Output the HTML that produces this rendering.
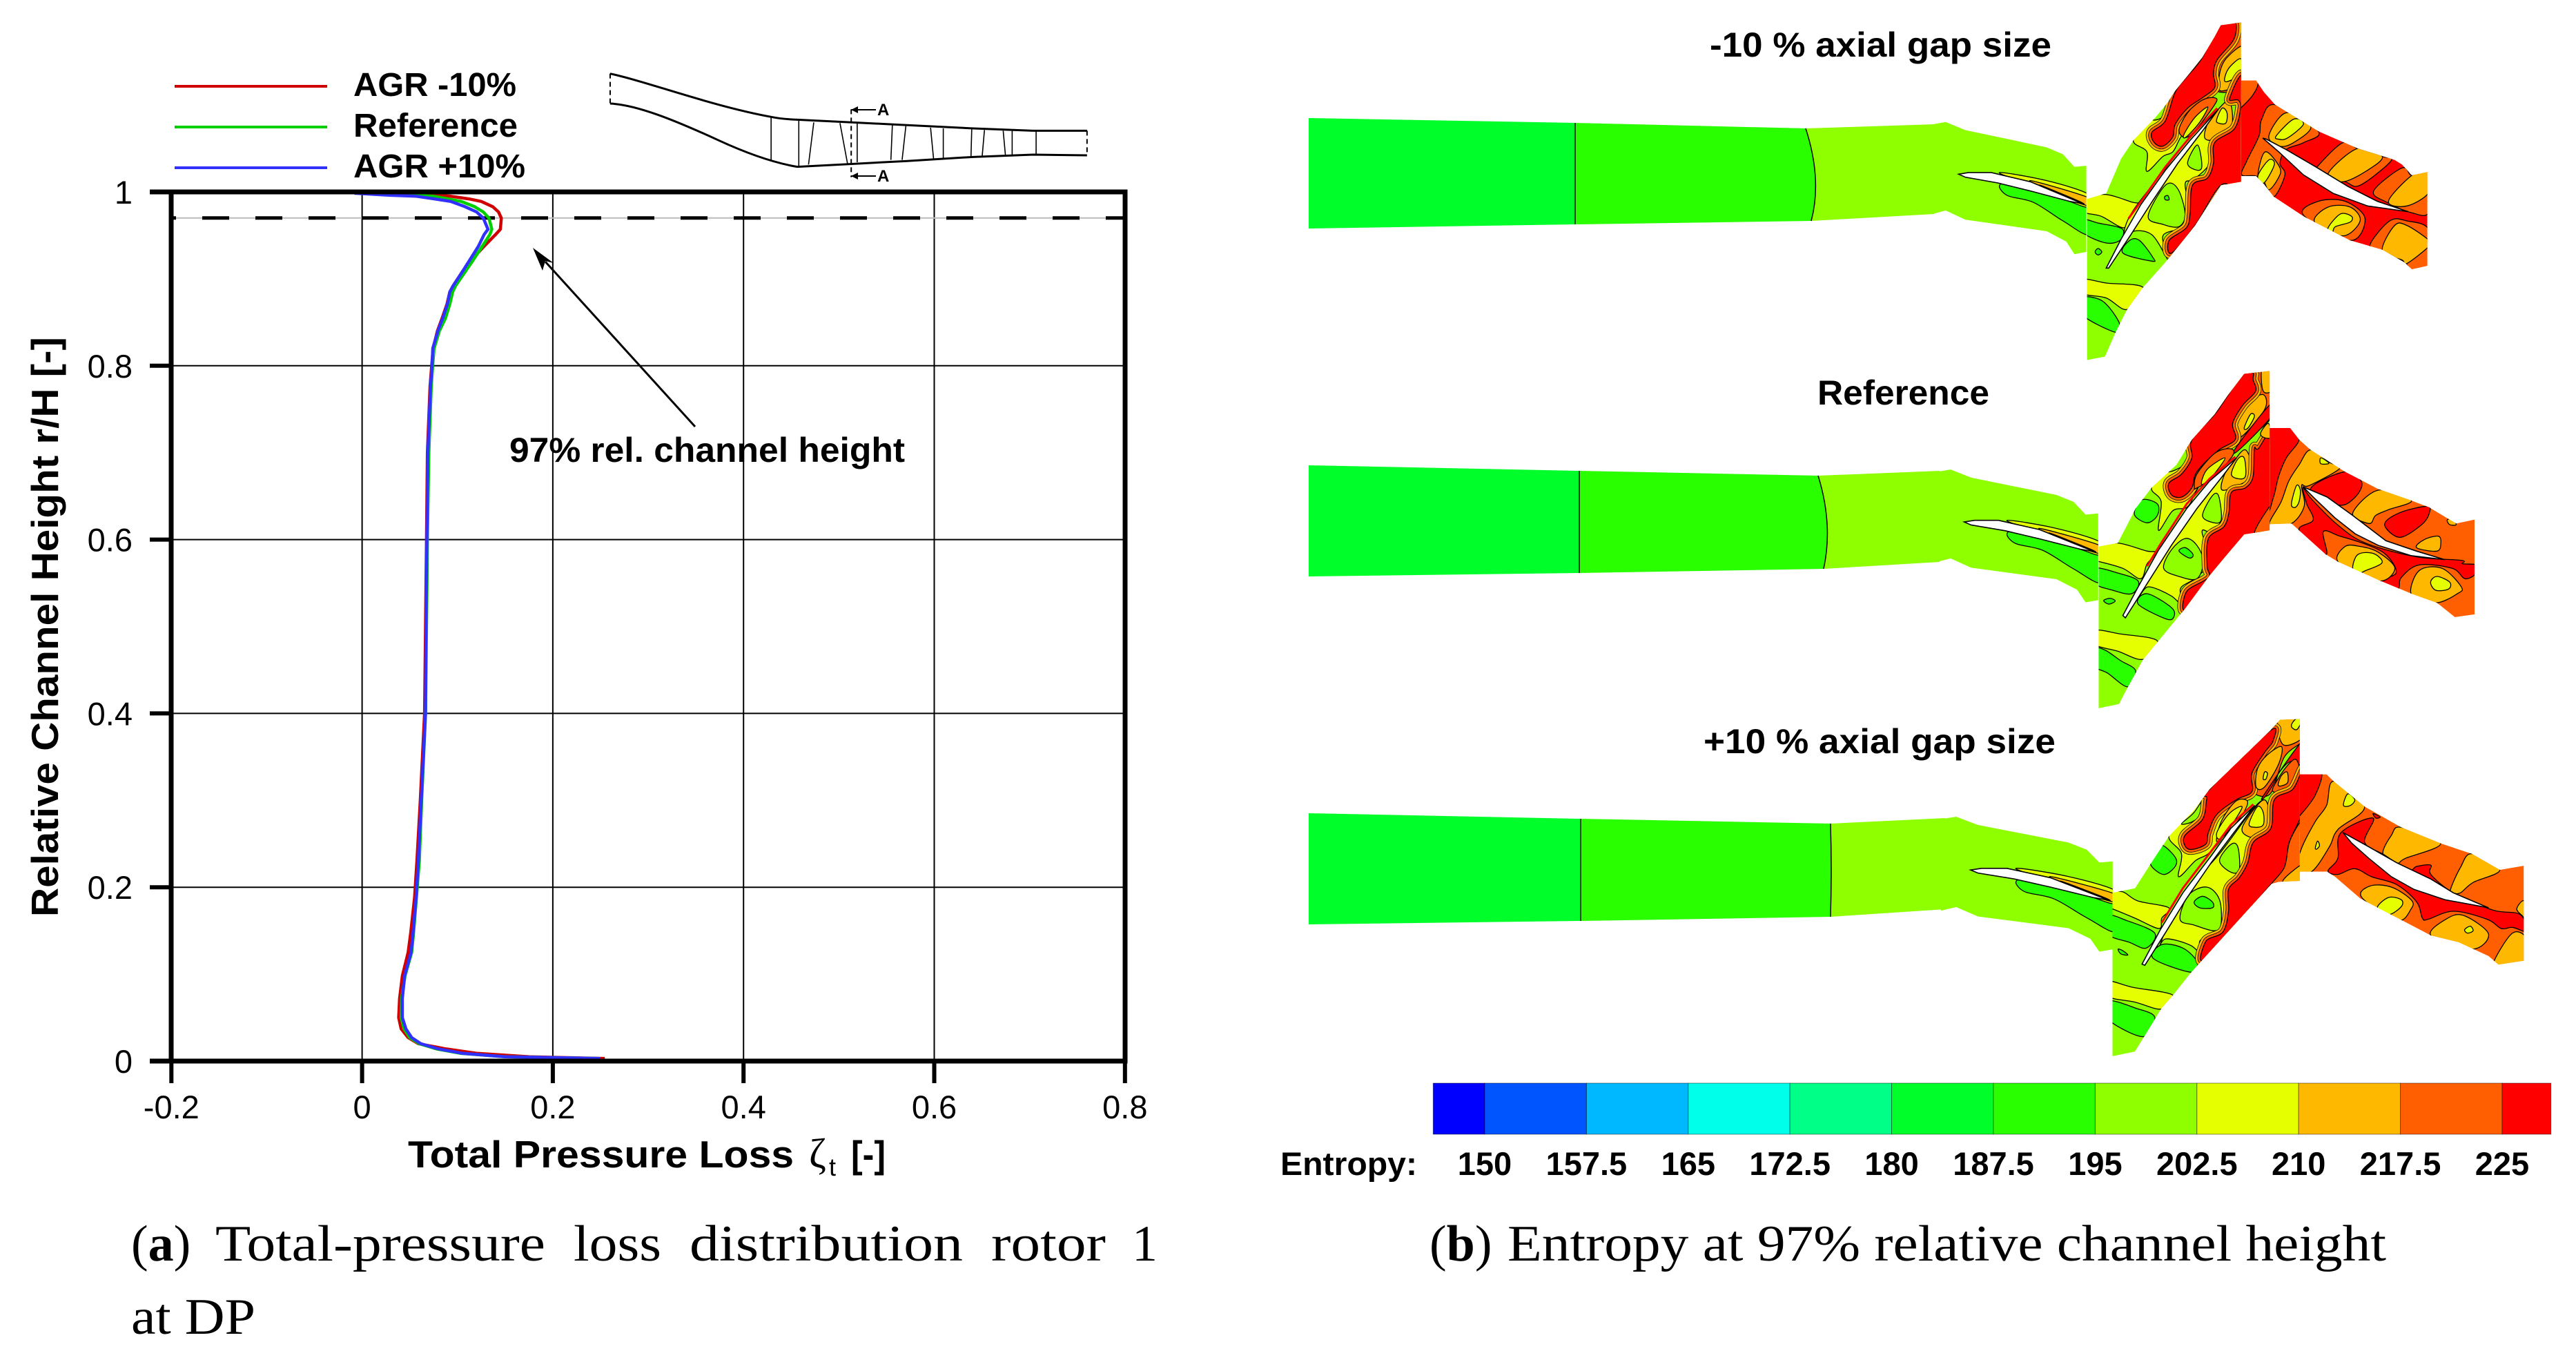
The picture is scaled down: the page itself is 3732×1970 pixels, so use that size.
<!DOCTYPE html>
<html lang="en"><head><meta charset="utf-8"><title>Total-pressure loss and entropy</title>
<style>html,body{margin:0;padding:0;background:#fff}svg{display:block}
.h{font-family:"Liberation Sans",sans-serif}.s{font-family:"Liberation Serif",serif}</style></head>
<body>
<svg id="fig" xmlns="http://www.w3.org/2000/svg" width="3732" height="1970" viewBox="0 0 3732 1970">
<rect width="3732" height="1970" fill="#fff"/>
<g id="chart"></g>
<g class="h" font-weight="bold" font-size="48">
<line x1="253" x2="474" y1="125" y2="125" stroke="#d00000" stroke-width="4"/>
<line x1="253" x2="474" y1="184" y2="184" stroke="#00d000" stroke-width="4"/>
<line x1="253" x2="474" y1="243" y2="243" stroke="#3030ff" stroke-width="4"/>
<text x="512" y="139" textLength="236" lengthAdjust="spacingAndGlyphs">AGR -10%</text>
<text x="512" y="198" textLength="238" lengthAdjust="spacingAndGlyphs">Reference</text>
<text x="512" y="257" textLength="249" lengthAdjust="spacingAndGlyphs">AGR +10%</text>
</g>
<g>
<g transform="matrix(1.0846,0,0,.3333,0,60)" fill="none" stroke="#000">
<path vector-effect="non-scaling-stroke" stroke-width="3" d="M815 140C870 180 950 280 1030 328Q1045 338 1065 340L1140 352 1200 362 1300 378 1380 388H1452"/>
<path vector-effect="non-scaling-stroke" stroke-width="3" d="M815 270C850 275 900 340 960 430Q1020 520 1065 545L1140 532 1210 520 1300 502 1380 492 1452 495"/>
<path vector-effect="non-scaling-stroke" stroke-width="2" stroke-dasharray="7 5" d="M815 140V270M1452 388V495M1137 295V590"/>
<path vector-effect="non-scaling-stroke" stroke-width="1.6" d="M1030 330V520M1067 345V540M1087 352L1080 535M1122 355L1132 530M1145 355V525M1192 362L1190 515M1210 368L1205 515M1243 375L1247 510M1260 378V507M1298 382L1297 500M1315 385L1312 497M1340 388L1343 495M1352 388V493M1384 390V490"/>
<path vector-effect="non-scaling-stroke" stroke-width="2" d="M1137 297H1170M1137 585H1170"/>
</g>
<path d="M1233 159l10-5v10zM1233 255l10-5v10z" fill="#000"/>
<text class="h" font-weight="bold" font-size="24" x="1271" y="167">A</text>
<text class="h" font-weight="bold" font-size="24" x="1271" y="263">A</text>
</g>
<g>
<line x1="1007" y1="618" x2="790" y2="379" stroke="#000" stroke-width="3"/>
<path d="M772 359L786 392 790 378 802 381Z" fill="#000"/>
<text class="h" font-weight="bold" font-size="50" x="738" y="669" textLength="573" lengthAdjust="spacingAndGlyphs">97% rel. channel height</text>
</g>
<g class="h" font-weight="bold">
<text font-size="55" x="591" y="1691" textLength="559" lengthAdjust="spacingAndGlyphs">Total Pressure Loss</text>
<text class="s" font-weight="normal" font-size="60" x="1172" y="1691">ζ</text>
<text font-weight="normal" font-size="36" x="1201" y="1703">t</text>
<text font-size="55" x="1233" y="1691" textLength="50" lengthAdjust="spacingAndGlyphs">[-]</text>
<text font-size="55" transform="translate(84,1328) rotate(-90)" textLength="840" lengthAdjust="spacingAndGlyphs">Relative Channel Height r/H [-]</text>
</g>
<g class="s" font-size="74">
<text x="190" y="1826">(<tspan font-weight="bold">a</tspan>)</text>
<text x="312" y="1826" textLength="478" lengthAdjust="spacingAndGlyphs">Total-pressure</text>
<text x="831" y="1826" textLength="127" lengthAdjust="spacingAndGlyphs">loss</text>
<text x="999" y="1826" textLength="396" lengthAdjust="spacingAndGlyphs">distribution</text>
<text x="1436" y="1826" textLength="166" lengthAdjust="spacingAndGlyphs">rotor</text>
<text x="1640" y="1826">1</text>
<text x="190" y="1932" textLength="180" lengthAdjust="spacingAndGlyphs">at DP</text>
</g>
<g class="s" font-size="74">
<text x="2071" y="1826">(<tspan font-weight="bold">b</tspan>)</text>
<text x="2184" y="1826" textLength="1273" lengthAdjust="spacingAndGlyphs">Entropy at 97% relative channel height</text>
</g>
<g id="fields"></g>
<g class="h" font-weight="bold" font-size="50">
<text x="2477" y="82" textLength="495" lengthAdjust="spacingAndGlyphs">-10 % axial gap size</text>
<text x="2633" y="586" textLength="249" lengthAdjust="spacingAndGlyphs">Reference</text>
<text x="2468" y="1091" textLength="510" lengthAdjust="spacingAndGlyphs">+10 % axial gap size</text>
</g>
<g id="cbar"></g>
<text class="h" font-weight="bold" font-size="47" x="1855" y="1702" textLength="198" lengthAdjust="spacingAndGlyphs">Entropy:</text>
</svg>
<script>
// ---- chart data ----
const relHeight=[0.003,0.005,0.009,0.014,0.020,0.027,0.037,0.050,0.072,0.098,0.125,0.148,0.188,0.23,0.3,0.4,0.5,0.6,0.7,0.776,0.80,0.82,0.84,0.855,0.871,0.885,0.892,0.908,0.92,0.9375,0.951,0.957,0.97,0.977,0.983,0.989,0.992,0.995,0.9963,0.9985];
const lossAgrMinus10=[0.2545,0.175,0.12,0.088,0.059,0.0483,0.041,0.0384,0.0393,0.0422,0.0483,0.051,0.055,0.0575,0.061,0.0655,0.0665,0.0675,0.0685,0.0712,0.073,0.0745,0.079,0.084,0.089,0.092,0.0955,0.105,0.113,0.128,0.14,0.145,0.146,0.143,0.137,0.125,0.112,0.093,0.077,0.05];
const lossReference=[0.25,0.15,0.103,0.078,0.06,0.05,0.044,0.041,0.0415,0.045,0.052,0.054,0.057,0.06,0.0625,0.0665,0.0675,0.0685,0.07,0.0725,0.074,0.0755,0.081,0.0875,0.092,0.095,0.098,0.108,0.1155,0.126,0.134,0.136,0.133,0.127,0.118,0.104,0.09,0.075,0.05,0.02];
const lossAgrPlus10=[0.25,0.15,0.105,0.08,0.0615,0.052,0.046,0.0422,0.0422,0.0446,0.0514,0.0535,0.0567,0.059,0.062,0.0665,0.067,0.068,0.069,0.0717,0.0734,0.0741,0.0795,0.0847,0.0895,0.092,0.0955,0.105,0.112,0.122,0.128,0.132,0.127,0.12,0.108,0.093,0.076,0.057,0.028,-0.008];
const xTickValues=[-0.2,0,0.2,0.4,0.6,0.8];
const xTickLabels=["-0.2","0","0.2","0.4","0.6","0.8"];
const yTickValues=[0,0.2,0.4,0.6,0.8,1];
const yTickLabels=["0","0.2","0.4","0.6","0.8","1"];
const markerHeight=[0.97];
const entropyEdges=[146.2,150,157.5,165,172.5,180,187.5,195,202.5,210,217.5,225,228.6];
const entropyColors=["#0000ff","#0055ff","#00b8ff","#00ffea","#00ff87","#00ff2a","#2aff00","#8fff00","#e6ff00","#ffb800","#ff5f00","#ff0000"];
const entropyTicks=[150,157.5,165,172.5,180,187.5,195,202.5,210,217.5,225];
const entropyTickLabels=["150","157.5","165","172.5","180","187.5","195","202.5","210","217.5","225"];

const NS="http://www.w3.org/2000/svg";
function mk(tag,attrs,parent){const e=document.createElementNS(NS,tag);for(const k in attrs)e.setAttribute(k,attrs[k]);parent.appendChild(e);return e;}
const xScale=v=>524.6+v*1381.5;
const yScale=v=>1537-v*1259;
const chart=document.getElementById('chart');
const FONT='"Liberation Sans",sans-serif';
xTickValues.forEach((v,i)=>{
  if(v>-0.2&&v<0.8){
    const g=mk('line',{x1:xScale(v),x2:xScale(v),y1:yScale(1),y2:yScale(0),stroke:'#000','stroke-width':2},chart);
    
    
  }
  const t=mk('line',{x1:xScale(v),x2:xScale(v),y1:yScale(0),y2:1569,stroke:'#000','stroke-width':6},chart);
  
  
  const l=mk('text',{x:xScale(v),y:1620,'text-anchor':'middle','font-size':47,'font-family':FONT},chart);
  l.textContent=xTickLabels[i];
  
  
});
yTickValues.forEach((v,i)=>{
  if(v>0&&v<1){
    const g=mk('line',{x1:248,x2:1630,y1:yScale(v),y2:yScale(v),stroke:'#000','stroke-width':2},chart);
    
    
  }
  const t=mk('line',{x1:217,x2:248,y1:yScale(v),y2:yScale(v),stroke:'#000','stroke-width':6},chart);
  
  
  const l=mk('text',{x:192,y:yScale(v)+17,'text-anchor':'end','font-size':47,'font-family':FONT},chart);
  l.textContent=yTickLabels[i];
  
  
});
const refGrey=mk('line',{x1:248,x2:1630,y1:yScale(markerHeight[0]),y2:yScale(markerHeight[0]),stroke:'#bbb','stroke-width':2},chart);


const refDash=mk('line',{x1:248,x2:1630,y1:yScale(markerHeight[0]),y2:yScale(markerHeight[0]),stroke:'#000','stroke-width':5,'stroke-dasharray':'39 38','stroke-dashoffset':'32'},chart);


function seriesPath(vals){return vals.map((v,i)=>(i?'L':'M')+xScale(v).toFixed(1)+' '+yScale(relHeight[i]).toFixed(1)).join('');}
const s1=mk('path',{d:seriesPath(lossAgrMinus10),fill:'none',stroke:'#d00000','stroke-width':4.5,'stroke-linejoin':'round'},chart);


const s2=mk('path',{d:seriesPath(lossReference),fill:'none',stroke:'#00d000','stroke-width':4.5,'stroke-linejoin':'round'},chart);


const s3=mk('path',{d:seriesPath(lossAgrPlus10),fill:'none',stroke:'#3030ff','stroke-width':4.5,'stroke-linejoin':'round'},chart);


const frame=mk('path',{d:'M217 278H1630V1537H217M248 278V1537',fill:'none',stroke:'#000','stroke-width':7},chart);



// ---- colorbar ----
const colorX=v=>2151+(v-150)*147.4/7.5;
const cbar=document.getElementById('cbar');
entropyColors.forEach((c,i)=>{
  const r=mk('rect',{x:colorX(entropyEdges[i]),y:1569,width:colorX(entropyEdges[i+1])-colorX(entropyEdges[i]),height:74,fill:c,stroke:'#000','stroke-opacity':0.45,'stroke-width':1},cbar);
  
  
});
entropyTicks.forEach((v,i)=>{
  const t=mk('text',{x:colorX(v),y:1702,'text-anchor':'middle','font-size':47,'font-weight':'bold','font-family':FONT},cbar);
  t.textContent=entropyTickLabels[i];
  
  
});

// ---- contour fields (illustrative geometry) ----
const C={r:'#ff0000',o:'#ff5f00',a:'#ffb800',y:'#e6ff00',l:'#8fff00',g:'#2aff00',f:'#00ff2a'};
function smooth(p){let n=p.length,d='M'+p[0][0]+' '+p[0][1];for(let i=0;i<n;i++){const a=p[(i-1+n)%n],b=p[i],c=p[(i+1)%n],e=p[(i+2)%n];
  d+='C'+(b[0]+(c[0]-a[0])/6).toFixed(1)+' '+(b[1]+(c[1]-a[1])/6).toFixed(1)+' '+(c[0]-(e[0]-b[0])/6).toFixed(1)+' '+(c[1]-(e[1]-b[1])/6).toFixed(1)+' '+c[0]+' '+c[1];}return d+'Z';}
function poly(p){return 'M'+p.map(q=>q.join(' ')).join('L')+'Z';}
const fields=document.getElementById('fields');
let clipId=0;
function section(name,matrix,outline,base,bands,blades){
  const g=mk('g',{transform:'matrix('+matrix.join(',')+')'},fields);
  
  
  const id='clip'+(clipId++);
  const cp=mk('clipPath',{id:id},g);
  mk('path',{d:poly(outline)},cp);
  const inner=mk('g',{'clip-path':'url(#'+id+')'},g);
  const b=mk('path',{d:poly(outline),fill:C[base]},inner);
  
  
  bands.forEach(bd=>{
    const d=smooth(bd[1]);
    (bd[2]||[]).forEach((h,i,arr)=>{
      const w=(arr.length-i)*7;
      const k=mk('path',{d:d,fill:'none',stroke:'#000','stroke-width':w+1.5,'vector-effect':'non-scaling-stroke','stroke-linejoin':'round'},inner);
      
      
      const hp=mk('path',{d:d,fill:C[h],stroke:C[h],'stroke-width':w,'vector-effect':'non-scaling-stroke','stroke-linejoin':'round'},inner);
      
      
    });
    const p=mk('path',{d:d,fill:C[bd[0]],stroke:'#000','stroke-width':1.3,'vector-effect':'non-scaling-stroke'},inner);
    
    
  });
  (blades||[]).forEach(bl=>{
    const w=mk('path',{d:poly(bl),fill:'#fff',stroke:'#000','stroke-width':1.6,'vector-effect':'non-scaling-stroke'},g);
    
    
  });
}
function inlet(name,top,bot,d1,d2a,d2m,d2b,endTop,endBot){
  const g=mk('g',{},fields);
  
  
  const a=mk('path',{d:'M1896 '+top+'L'+d1[0]+' '+d1[1]+'V'+d1[2]+'L1896 '+bot+'Z',fill:C.f},g);
  
  
  const b=mk('path',{d:'M'+d1[0]+' '+d1[1]+'L'+d2a[0]+' '+d2a[1]+'Q'+d2m[0]+' '+d2m[1]+' '+d2b[0]+' '+d2b[1]+'L'+d1[0]+' '+d1[2]+'Z',fill:C.g},g);
  
  
  const c=mk('path',{d:'M'+d2a[0]+' '+d2a[1]+'L'+endTop[0]+' '+endTop[1]+'L'+endTop[0]+' '+endBot[1]+'L'+d2b[0]+' '+d2b[1]+'Q'+d2m[0]+' '+d2m[1]+' '+d2a[0]+' '+d2a[1]+'Z',fill:C.l},g);
  
  
  const ln=mk('path',{d:'M'+d1[0]+' '+d1[1]+'V'+d1[2]+'M'+d2a[0]+' '+d2a[1]+'Q'+d2m[0]+' '+d2m[1]+' '+d2b[0]+' '+d2b[1],fill:'none',stroke:'#000','stroke-width':1.5},g);
  
  
}
function redEdge(name,m,d){
  const g=mk('path',{transform:'matrix('+m.join(',')+')',d:d,fill:'none',stroke:'#f00','stroke-width':3,'vector-effect':'non-scaling-stroke'},fields);
  
  
}
const statorOutline=[[0,480],[40,470],[100,505],[350,580],[400,610],[435,665],[472,660],[472,1035],[435,1045],[410,990],[350,945],[100,895],[40,855],[0,870],[-2,870]];
const statorBands=[
 ['g',[[205,748],[240,745],[420,815],[480,850],[480,960],[400,900],[310,820],[230,790]]],
 ['y',[[205,690],[350,725],[480,785],[480,840],[420,815],[300,745]]],
 ['a',[[300,725],[480,800],[480,835],[380,785]]],
 ['r',[[330,745],[450,815],[455,825],[370,780]]]];
const statorBlades=[[[80,697],[110,690],[180,690],[300,730],[460,825],[420,815],[300,770],[200,735],[100,710]]];

// Panel 1 (-10 %)
const M1=[.3571,0,0,.3333,2980,20];
inlet('inlet-minus-10',171,331,[2282,178,325],[2616,186],[2640,260],[2624,320],[2802,180],[0,310]);
section('stator-1-minus-10',[.4719,0,0,.3333,2800,20],statorOutline,'l',statorBands,statorBlades);
section('rotor-minus-10',M1,[[747,38],[665,50],[640,100],[590,190],[530,270],[480,335],[450,385],[400,450],[310,550],[260,630],[200,780],[122,805],[122,1505],[195,1490],[240,1380],[285,1285],[345,1195],[440,1080],[560,920],[665,745],[747,730]],'l',[
 ['y',[[105,810],[195,785],[310,820],[345,825],[300,880],[270,930],[180,880],[105,860]]],
 ['g',[[105,895],[170,910],[265,935],[255,985],[195,995],[105,950]]],
 ['y',[[105,1155],[200,1170],[350,1190],[285,1285],[200,1235],[105,1215]]],
 ['g',[[105,1235],[170,1240],[215,1280],[255,1350],[240,1385],[105,1310]]],
 ['y',[[470,340],[380,450],[310,550],[365,600],[365,685],[430,620],[470,600],[500,540],[560,430]]],
 ['l',[[385,455],[440,380],[470,340],[450,420],[420,455]]],
 ['y',[[650,420],[700,380],[705,490],[640,545],[620,650],[555,720],[520,740],[540,870],[510,930],[430,965],[455,1075],[385,960],[300,950],[265,1030],[290,890],[420,700],[540,540]]],
 ['l',[[530,650],[570,570],[588,660],[570,680]]],
 ['l',[[370,880],[440,745],[490,760],[520,870],[495,925],[430,915]]],
 ['g',[[437,795],[450,790],[455,808],[440,808]]],
 ['g',[[268,1040],[295,985],[335,985],[390,1060],[385,1075]]],
 ['g',[[155,1035],[167,1020],[182,1035],[167,1048]]],
 ['o',[[720,20],[765,20],[765,290],[660,340],[635,270],[640,220],[710,130]]],
 ['a',[[765,140],[765,280],[665,335],[660,260],[690,190]]],
 ['y',[[683,295],[695,240],[745,195],[745,260]]],
 ['r',[[665,30],[722,30],[718,110],[650,200],[635,260],[640,320],[590,365],[530,410],[480,480],[470,535],[430,575],[395,560],[385,515],[440,465],[480,340],[530,270],[590,190]],['a','o']],
 ['o',[[495,510],[530,430],[590,375],[640,365],[640,395],[540,530]]],
 ['y',[[515,525],[560,450],[612,405],[580,470],[525,535]]],
 ['a',[[610,480],[650,420],[700,380],[708,490],[640,545],[600,540]]],
 ['y',[[648,460],[670,410],[690,430],[685,475],[655,475]]],
 ['r',[[760,280],[700,370],[735,375],[745,410],[720,500],[640,560],[635,650],[610,715],[550,745],[540,870],[525,930],[455,985],[465,1040],[560,920],[665,745],[760,730]],['a','o']]
],[[[200,1105],[260,980],[340,830],[440,680],[540,550],[655,415],[590,510],[490,650],[390,810],[300,960],[210,1105]]]);
redEdge('rotor-blade-edge-minus-10',M1,'M290 890L345 810 440 665 540 535 650 410');
section('stator-2-minus-10',M1,[[747,290],[808,290],[840,340],[885,395],[1060,510],[1220,585],[1370,635],[1400,655],[1440,702],[1503,688],[1503,1095],[1440,1110],[1410,1080],[1320,1025],[1190,985],[1000,880],[880,795],[840,740],[808,705],[747,705]],'r',[
 ['o',[[740,280],[808,280],[815,310],[790,360],[745,410],[740,410]]],
 ['o',[[885,395],[1060,510],[1000,560],[930,590],[905,650],[925,700],[880,795],[840,740],[808,705],[750,700],[770,640],[820,530],[830,460]]],
 ['a',[[860,530],[930,430],[1030,490],[960,560],[900,575]]],
 ['y',[[890,530],[960,458],[1000,480],[935,540],[900,545]]],
 ['a',[[840,730],[815,705],[845,600],[905,670],[895,720],[860,765]]],
 ['y',[[815,705],[860,635],[882,655],[840,735]]],
 ['o',[[1060,660],[1160,560],[1220,585],[1320,620],[1355,640],[1230,745],[1170,730],[1060,680]]],
 ['a',[[1100,695],[1220,585],[1320,620],[1260,680],[1160,730]]],
 ['o',[[1285,770],[1400,670],[1440,702],[1510,680],[1510,860],[1440,865],[1340,820]]],
 ['a',[[1345,815],[1440,702],[1510,680],[1510,775],[1420,835]]],
 ['o',[[1000,875],[1060,815],[1170,815],[1250,890],[1190,985]]],
 ['a',[[1045,905],[1100,840],[1190,840],[1230,900],[1160,965]]],
 ['y',[[1100,930],[1150,870],[1195,880],[1190,905],[1130,925],[1118,948]]],
 ['o',[[1270,1005],[1350,900],[1420,900],[1510,940],[1510,1110],[1440,1115],[1410,1080],[1320,1030]]],
 ['a',[[1320,1030],[1370,920],[1420,920],[1510,985],[1510,1010],[1420,1085],[1400,1070]]]
],[[[835,540],[900,600],[1000,700],[1120,780],[1260,835],[1425,860],[1300,815],[1180,750],[1050,665],[930,590],[850,545]]]);

// Panel 2 (reference)
const M2=[.37,0,0,.3333,3020,530];
inlet('inlet-reference',674,835,[2288,682,830],[2634,689],[2656,760],[2642,824],[2810,682],[0,814]);
section('stator-1-reference',[.495,0,0,.3351,2806.2,522.5],statorOutline,'l',statorBands,statorBlades);
section('rotor-reference',M2,[[725,22],[625,35],[560,130],[510,210],[420,322],[360,430],[262,530],[200,620],[130,770],[55,785],[55,1488],[135,1470],[170,1395],[230,1275],[290,1195],[390,1060],[490,910],[550,830],[625,732],[725,715]],'l',[
 ['y',[[40,785],[130,770],[245,805],[285,810],[245,860],[220,925],[150,880],[55,850],[40,850]]],
 ['g',[[40,880],[130,900],[210,935],[185,990],[110,975],[40,945]]],
 ['y',[[40,1150],[140,1165],[285,1195],[230,1275],[130,1240],[40,1210]]],
 ['g',[[40,1230],[80,1235],[140,1280],[200,1325],[170,1395],[90,1335],[40,1305]]],
 ['y',[[410,340],[320,450],[262,530],[300,590],[290,715],[345,630],[400,615],[430,560],[470,450]]],
 ['g',[[225,582],[285,600],[285,650],[245,682],[195,645]]],
 ['l',[[320,458],[360,420],[415,330],[395,420],[350,455]]],
 ['y',[[600,400],[640,380],[640,470],[575,540],[555,640],[500,720],[460,720],[490,850],[430,925],[375,970],[395,1055],[340,1000],[250,960],[215,1000],[300,800],[420,620],[530,470]]],
 ['l',[[462,650],[500,565],[525,565],[535,670],[500,680]]],
 ['l',[[310,880],[340,800],[395,750],[440,780],[465,850],[440,925],[370,915]]],
 ['g',[[370,805],[395,790],[425,820],[410,835]]],
 ['g',[[210,1035],[245,990],[340,1050],[350,1090],[320,1100]]],
 ['g',[[75,1020],[100,1010],[120,1022],[95,1035]]],
 ['o',[[660,10],[740,10],[740,210],[600,340],[590,320],[578,250],[620,170],[670,110]]],
 ['a',[[695,10],[740,10],[740,100],[700,110]]],
 ['a',[[610,310],[600,240],[640,160],[700,125],[705,190]]],
 ['y',[[625,270],[650,210],[665,220],[640,270]]],
 ['r',[[625,30],[660,30],[660,60],[670,110],[620,170],[580,250],[590,320],[520,370],[440,460],[420,530],[380,570],[340,560],[330,510],[380,470],[420,400],[420,322],[510,210],[560,130]],['a','o']],
 ['r',[[590,360],[725,170],[735,215],[610,360]]],
 ['o',[[430,530],[440,470],[510,380],[570,360],[580,390],[500,490],[440,530]]],
 ['y',[[458,515],[480,450],[550,400],[500,480]]],
 ['a',[[545,480],[575,430],[630,365],[660,470],[620,510],[540,540]]],
 ['y',[[575,470],[600,405],[625,400],[630,480],[600,490]]],
 ['r',[[740,290],[680,360],[665,360],[660,480],[630,530],[575,550],[565,640],[545,700],[485,750],[480,870],[485,920],[400,980],[400,1060],[560,850],[670,725],[740,600]],['a','o']],
 ['o',[[665,730],[725,610],[740,610],[740,730]]],
 ['a',[[690,290],[720,250],[730,310],[700,310]]]
],[[[150,1085],[210,960],[290,800],[400,620],[490,500],[595,400],[540,480],[440,620],[340,780],[260,920],[160,1095]]]);
redEdge('rotor-blade-edge-reference',M2,'M245 870L300 770 400 600 490 490 590 395');
section('stator-2-reference',M2,[[725,270],[805,270],[840,320],[885,365],[1020,460],[1150,535],[1280,585],[1350,615],[1425,665],[1455,685],[1527,668],[1527,1080],[1450,1092],[1380,1030],[1280,990],[1150,930],[990,850],[945,820],[840,715],[810,685],[725,688]],'o',[
 ['r',[[715,260],[820,260],[840,322],[790,400],[760,480],[740,570],[715,620]]],
 ['a',[[885,365],[960,420],[1000,445],[880,520],[850,520],[860,610],[810,685],[725,690],[770,590],[800,500],[840,430]]],
 ['y',[[925,400],[950,415],[955,425],[925,425]]],
 ['y',[[810,600],[830,520],[845,540],[840,590],[825,615]]],
 ['r',[[885,535],[1020,460],[1085,505],[1060,570],[995,605]]],
 ['a',[[1050,640],[1150,540],[1280,585],[1190,625],[1140,650],[1115,685]]],
 ['r',[[1175,690],[1230,640],[1340,610],[1350,640],[1320,690],[1235,745]]],
 ['a',[[1300,790],[1330,755],[1385,740],[1395,770],[1380,805]]],
 ['a',[[1420,670],[1440,665],[1455,690],[1430,690]]],
 ['r',[[855,530],[890,580],[990,690],[1100,770],[1300,830],[1475,845],[1480,860],[1535,865],[1535,900],[1490,925],[1440,880],[1310,865],[1240,920],[1225,970],[1150,935],[1220,900],[1180,820],[1100,775],[1000,740],[935,720],[945,820],[840,715],[895,670],[870,600]]],
 ['a',[[995,855],[1020,785],[1080,785],[1150,810],[1215,880],[1150,935]]],
 ['y',[[1050,880],[1070,820],[1130,815],[1165,855],[1100,890],[1075,900]]],
 ['a',[[1280,995],[1310,890],[1400,880],[1475,960],[1460,990],[1375,1030]]],
 ['y',[[1355,940],[1380,915],[1430,940],[1425,970],[1375,975]]]
],[[[855,525],[900,575],[980,660],[1060,730],[1150,780],[1280,825],[1410,842],[1300,805],[1180,760],[1050,650],[950,570]]]);

// Panel 3 (+10 %)
const M3=[.4082,0,0,.3333,3040,1030];
inlet('inlet-plus-10',1178,1339,[2290,1186,1334],[2652,1193],[2654,1260],[2652,1328],[2818,1185],[0,1317]);
section('stator-1-plus-10',[.5252,0,0,.3403,2813,1023],statorOutline,'l',statorBands,statorBlades);
section('rotor-plus-10',M3,[[715,35],[645,38],[610,85],[395,340],[340,430],[250,545],[185,665],[130,770],[50,790],[50,1500],[130,1480],[165,1410],[225,1290],[265,1235],[330,1135],[370,1080],[615,750],[640,742],[715,738]],'l',[
 ['y',[[35,795],[85,785],[140,825],[250,855],[225,900],[215,945],[130,900],[50,860],[35,860]]],
 ['g',[[35,890],[100,910],[200,965],[170,1030],[110,1005],[35,970]]],
 ['y',[[35,1175],[120,1200],[265,1235],[225,1295],[130,1265],[35,1240]]],
 ['g',[[35,1260],[130,1290],[200,1330],[160,1415],[35,1340]]],
 ['y',[[390,345],[300,450],[250,545],[295,620],[285,720],[345,650],[390,620],[440,550],[470,450]]],
 ['g',[[230,585],[275,640],[270,680],[230,710],[185,665],[205,610]]],
 ['l',[[295,490],[340,440],[390,350],[370,440],[335,480]]],
 ['y',[[560,410],[600,400],[605,500],[545,570],[525,660],[500,720],[450,770],[455,860],[430,960],[360,1000],[380,1080],[330,1020],[240,990],[215,1030],[290,820],[430,620]]],
 ['l',[[430,650],[470,580],[495,590],[500,690],[470,700]]],
 ['l',[[290,905],[320,800],[385,765],[430,820],[435,930],[410,955],[340,930]]],
 ['g',[[340,830],[370,805],[405,830],[405,855],[360,855]]],
 ['g',[[195,1075],[225,1015],[300,1030],[350,1090],[330,1135]]],
 ['g',[[70,1035],[85,1040],[105,1060],[80,1055]]],
 ['o',[[615,70],[640,20],[730,20],[730,120],[660,200],[610,360],[545,350],[545,280],[590,180],[620,130]]],
 ['a',[[640,20],[730,20],[730,110],[655,145]]],
 ['y',[[685,65],[700,35],[725,30],[705,80]]],
 ['r',[[395,340],[610,85],[620,130],[590,180],[545,270],[545,350],[490,385],[420,450],[390,530],[380,580],[320,600],[305,545],[370,470],[385,380]],['a','o']],
 ['a',[[560,330],[565,250],[600,190],[650,155],[640,230],[590,330]]],
 ['y',[[585,295],[590,265],[600,270],[595,295]]],
 ['r',[[590,360],[725,130],[725,230],[680,220],[640,270],[620,320],[590,375]]],
 ['o',[[620,350],[640,290],[680,225],[705,215],[720,300],[690,340]]],
 ['a',[[638,320],[650,280],[670,265],[672,310],[650,325]]],
 ['a',[[420,550],[440,470],[490,390],[530,395],[500,470],[430,560]]],
 ['y',[[420,530],[465,445],[510,420],[440,550]]],
 ['a',[[510,510],[580,390],[605,420],[610,500],[555,550]]],
 ['y',[[535,490],[565,415],[585,440],[585,495],[555,505]]],
 ['r',[[730,250],[690,340],[625,385],[612,510],[550,570],[530,660],[500,725],[462,775],[462,870],[442,960],[382,1000],[382,1075],[615,750],[665,690],[675,580],[715,470],[730,400]],['a','o']],
 ['o',[[610,770],[660,680],[678,570],[715,485],[730,485],[730,750]]],
 ['a',[[655,745],[690,695],[730,670],[730,750]]]
],[[[155,1100],[220,950],[300,790],[400,630],[470,510],[555,410],[480,530],[400,660],[310,820],[240,960],[165,1105]]]);
redEdge('rotor-blade-edge-plus-10',M3,'M225 920L300 770 400 610 470 495 550 405');
section('stator-2-plus-10',M3,[[715,275],[810,275],[835,305],[945,415],[1075,505],[1215,575],[1325,620],[1425,690],[1510,672],[1510,1085],[1420,1102],[1385,1065],[1280,1005],[1180,975],[930,815],[840,720],[812,698],[715,698]],'o',[
 ['r',[[700,260],[790,260],[770,365],[715,455],[700,470]]],
 ['a',[[835,305],[945,415],[850,515],[820,590],[760,695],[700,710],[720,600],[770,480],[810,410]]],
 ['y',[[870,410],[885,360],[910,385],[895,410]]],
 ['y',[[770,595],[778,565],[785,585],[775,600]]],
 ['a',[[1010,620],[1040,540],[1075,505],[1215,575],[1090,640],[1060,660]]],
 ['a',[[1250,775],[1285,680],[1325,620],[1425,690],[1330,745],[1285,790],[1260,790]]],
 ['r',[[860,530],[975,465],[945,570],[1015,625],[1100,690],[1130,675],[1180,670],[1180,710],[1260,790],[1400,865],[1490,880],[1520,930],[1520,960],[1470,940],[1430,945],[1380,905],[1260,870],[1170,905],[1150,900],[1130,830],[1060,755],[970,720],[910,685],[850,710],[815,695],[850,640]]],
 ['r',[[975,445],[1000,460],[985,465]]],
 ['a',[[935,810],[965,760],[1040,765],[1110,820],[1110,860],[1060,910]]],
 ['y',[[990,855],[1030,810],[1075,820],[1075,850],[1030,885]]],
 ['a',[[1180,975],[1240,900],[1300,890],[1385,970],[1325,1035]]],
 ['y',[[1300,950],[1320,935],[1330,955],[1310,965]]],
 ['a',[[1405,1085],[1470,965],[1520,990],[1520,1100],[1420,1105]]],
 ['a',[[1485,860],[1510,825],[1520,905],[1505,890]]]
],[[[868,528],[900,575],[960,640],[1040,720],[1120,775],[1230,820],[1385,855],[1260,790],[1180,730],[1060,660],[960,590]]]);
</script>
</body></html>
